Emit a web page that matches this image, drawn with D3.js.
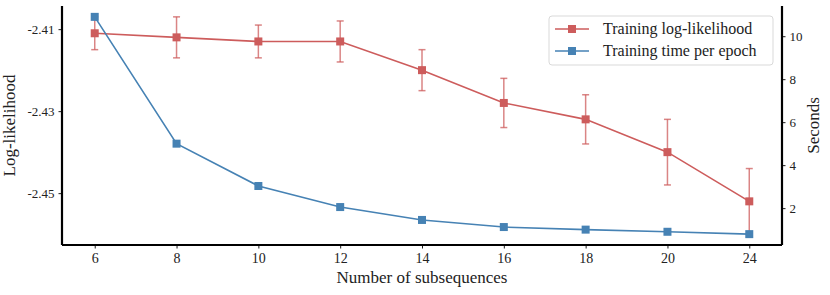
<!DOCTYPE html>
<html>
<head>
<meta charset="utf-8">
<script src="https://cdn.jsdelivr.net/npm/d3@7"></script>
<style>
  body { margin: 0; background: #fff; }
  text { font-family: "Liberation Serif", serif; fill: #222; }
</style>
</head>
<body>
<div id="chart"></div>
<script>
// data
const subsequences = ["6", "8", "10", "12", "14", "16", "18", "20", "24"];
const logLik = [-2.411, -2.412, -2.413, -2.413, -2.420, -2.428, -2.432, -2.440, -2.452];
const logLikErr = [0.004, 0.005, 0.004, 0.005, 0.005, 0.006, 0.006, 0.008, 0.008];
const seconds = [10.9, 5.0, 3.03, 2.05, 1.45, 1.12, 1.0, 0.9, 0.79];
const leftTicks = [-2.41, -2.43, -2.45];
const rightTicks = [2, 4, 6, 8, 10];

const red = "#cd5c5c", blue = "#4682b4";

const W = 830, H = 295;
const margin = { top: 6, right: 48, bottom: 50, left: 62 };
const width = W - margin.left - margin.right;
const height = H - margin.top - margin.bottom;

const svg = d3.select("#chart").append("svg")
    .attr("width", W).attr("height", H)
    .append("g")
    .attr("transform", "translate(" + margin.left + "," + margin.top + ")");

// x: equally spaced categories
const x = d3.scalePoint().domain(subsequences).range([0, width]).padding(0.4);

// left y with 5% margins like matplotlib
const lo = d3.min(logLik, (d, i) => d - logLikErr[i]);
const hi = d3.max(logLik, (d, i) => d + logLikErr[i]);
const yL = d3.scaleLinear().domain([lo - 0.05 * (hi - lo), hi + 0.05 * (hi - lo)]).range([height, 0]);

const sLo = d3.min(seconds), sHi = d3.max(seconds);
const yR = d3.scaleLinear().domain([sLo - 0.05 * (sHi - sLo), sHi + 0.05 * (sHi - sLo)]).range([height, 0]);

// axes
const xAxis = svg.append("g")
    .attr("transform", `translate(0,${height})`)
    .call(d3.axisBottom(x).tickSize(3.5).tickPadding(5));
const leftAxis = svg.append("g")
    .call(d3.axisLeft(yL).tickValues(leftTicks).tickFormat(d => d.toFixed(2)).tickSize(3.5).tickPadding(4));
const rightAxis = svg.append("g")
    .attr("transform", `translate(${width},0)`)
    .call(d3.axisRight(yR).tickValues(rightTicks).tickSize(3.5).tickPadding(4));

[xAxis, leftAxis, rightAxis].forEach(a => {
    a.select(".domain").attr("stroke", "#000").attr("stroke-width", 2.2);
    a.selectAll(".tick line").attr("stroke", "#000").attr("stroke-width", 0.9);
    a.selectAll(".tick text").style("font-size", "13px").attr("fill", "#222");
});
xAxis.selectAll(".tick text").style("font-size", "14px");
// no outer ticks on spines
xAxis.select(".domain").attr("d", `M0,0H${width}`);
leftAxis.select(".domain").attr("d", `M0,0V${height}`);
rightAxis.select(".domain").attr("d", `M0,0V${height}`);

// red error bars
const eb = svg.append("g").attr("stroke", red).attr("stroke-opacity", 0.75).attr("stroke-width", 1.5);
logLik.forEach((v, i) => {
    const cx = x(subsequences[i]);
    const y0 = yL(v - logLikErr[i]), y1 = yL(v + logLikErr[i]);
    eb.append("line").attr("x1", cx).attr("x2", cx).attr("y1", y0).attr("y2", y1);
    eb.append("line").attr("x1", cx - 3.5).attr("x2", cx + 3.5).attr("y1", y0).attr("y2", y0);
    eb.append("line").attr("x1", cx - 3.5).attr("x2", cx + 3.5).attr("y1", y1).attr("y2", y1);
});

function drawSeries(vals, yScale, color) {
    const line = d3.line().x((d, i) => x(subsequences[i])).y(d => yScale(d));
    svg.append("path").datum(vals)
        .attr("fill", "none").attr("stroke", color).attr("stroke-width", 1.6)
        .attr("d", line);
    svg.append("g").selectAll("rect").data(vals).enter().append("rect")
        .attr("x", (d, i) => x(subsequences[i]) - 4)
        .attr("y", d => yScale(d) - 4)
        .attr("width", 8).attr("height", 8)
        .attr("fill", color);
}
drawSeries(logLik, yL, red);
drawSeries(seconds, yR, blue);

// axis titles
svg.append("text")
    .attr("x", width / 2).attr("y", height + 38)
    .attr("text-anchor", "middle").style("font-size", "17px")
    .text("Number of subsequences");
svg.append("text")
    .attr("transform", `translate(${-47},${height / 2}) rotate(-90)`)
    .attr("text-anchor", "middle").style("font-size", "17px")
    .text("Log-likelihood");
svg.append("text")
    .attr("transform", `translate(${width + 37},${height / 2}) rotate(-90)`)
    .attr("text-anchor", "middle").style("font-size", "17px")
    .text("Seconds");

// legend
const legend = svg.append("g").attr("transform", `translate(${width - 233},${10})`);
legend.append("rect")
    .attr("width", 224).attr("height", 49).attr("rx", 3)
    .attr("fill", "#fff").attr("fill-opacity", 0.8)
    .attr("stroke", "#d9d9d9").attr("stroke-width", 1);
const legendItems = [["Training log-likelihood", red], ["Training time per epoch", blue]];
legendItems.forEach(([label, color], i) => {
    const gy = 13 + i * 22;
    legend.append("line").attr("x1", 6).attr("x2", 40).attr("y1", gy).attr("y2", gy)
        .attr("stroke", color).attr("stroke-width", 1.6);
    legend.append("rect").attr("x", 19).attr("y", gy - 4).attr("width", 8).attr("height", 8).attr("fill", color);
    legend.append("text").attr("x", 54).attr("y", gy + 5).style("font-size", "16px").text(label);
});
</script>
</body>
</html>
